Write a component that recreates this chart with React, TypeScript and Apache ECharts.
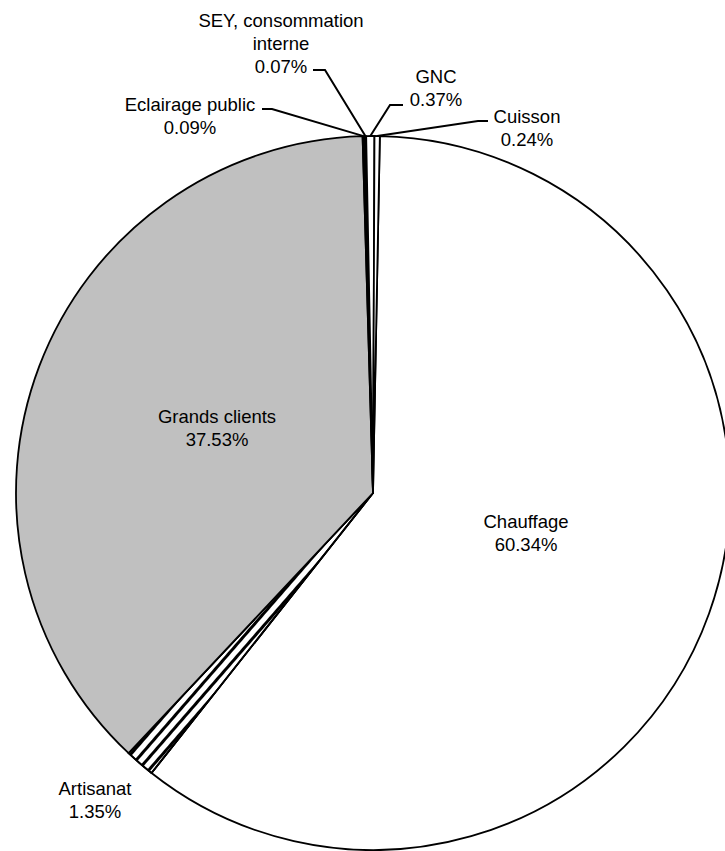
import React, { useEffect, useRef } from 'react';
import * as echarts from 'echarts';

// Data (clockwise from the top)
const categories = [
  'Chauffage',
  'Artisanat',
  'Grands clients',
  'Eclairage public',
  'SEY, consommation interne',
  'GNC',
  'Cuisson',
];
const shares = [60.34, 1.35, 37.53, 0.09, 0.07, 0.37, 0.24];

// Styles
const sliceColors = ['#ffffff', '#ffffff', '#c0c0c0', '#000000', '#000000', '#ffffff', '#ffffff'];
const stripedSlices = ['Artisanat'];
const insideLabels = ['Chauffage', 'Grands clients'];
const noLeader = ['Chauffage', 'Grands clients', 'Artisanat'];

// Label placement (layout only)
const labelPlacement: Record<string, { x: number; y: number; line?: number[][] }> = {
  'Chauffage': { x: 526, y: 533 },
  'Grands clients': { x: 217, y: 428 },
  'Artisanat': { x: 95, y: 800 },
  'Eclairage public': { x: 190, y: 116, line: [[272, 109], [262, 109]] },
  'SEY, consommation interne': { x: 281, y: 43, line: [[325, 70], [313, 70]] },
  'GNC': { x: 436, y: 88, line: [[390, 105], [403, 105]] },
  'Cuisson': { x: 527, y: 128, line: [[478, 121], [488, 121]] },
};

const FONT = '"Liberation Sans", Arial, Helvetica, sans-serif';

export default function App() {
  const ref = useRef<HTMLDivElement>(null);

  useEffect(() => {
    if (!ref.current) return;
    const chart = echarts.init(ref.current, undefined, { renderer: 'svg' });

    const data = categories.map((name, i) => {
      const striped = stripedSlices.includes(name);
      return {
        name,
        value: shares[i],
        itemStyle: {
          color: sliceColors[i],
          decal: striped
            ? {
                symbol: 'rect',
                symbolSize: 1,
                dashArrayX: [1, 0],
                dashArrayY: [3, 5],
                rotation: (-49 * Math.PI) / 180,
                color: '#000000',
              }
            : 'none',
        },
        label: { position: insideLabels.includes(name) ? 'inside' : 'outside' },
        labelLine: { show: !noLeader.includes(name) },
      };
    });

    chart.setOption({
      animation: false,
      backgroundColor: '#ffffff',
      series: [
        {
          type: 'pie',
          center: [373, 493],
          radius: 357,
          startAngle: 88.9,
          clockwise: true,
          avoidLabelOverlap: false,
          silent: true,
          emphasis: { disabled: true, scale: false },
          itemStyle: { borderColor: '#000000', borderWidth: 1.8 },
          label: {
            show: true,
            color: '#000000',
            fontFamily: FONT,
            fontSize: 18.5,
            lineHeight: 23,
            align: 'center',
            formatter: (p: any) => {
              const nm = p.name === 'SEY, consommation interne' ? 'SEY, consommation\ninterne' : p.name;
              return `${nm}\n${Number(p.value).toFixed(2)}%`;
            },
          },
          labelLine: {
            show: true,
            length: 10,
            length2: 10,
            smooth: false,
            lineStyle: { color: '#000000', width: 2 },
          },
          labelLayout: (params: any) => {
            const name = categories[params.dataIndex];
            const pl = labelPlacement[name];
            if (!pl) return {};
            const out: any = { x: pl.x, y: pl.y, align: 'center', verticalAlign: 'middle' };
            const anchor = params.labelLinePoints && params.labelLinePoints[0];
            if (pl.line && anchor) {
              out.labelLinePoints = [anchor, ...pl.line];
            }
            return out;
          },
          data,
        },
      ],
    });

    return () => {
      chart.dispose();
    };
  }, []);

  return (
    <div
      ref={ref}
      style={{ position: 'fixed', left: 0, top: 0, width: 725, height: 851, background: '#fff' }}
    />
  );
}
